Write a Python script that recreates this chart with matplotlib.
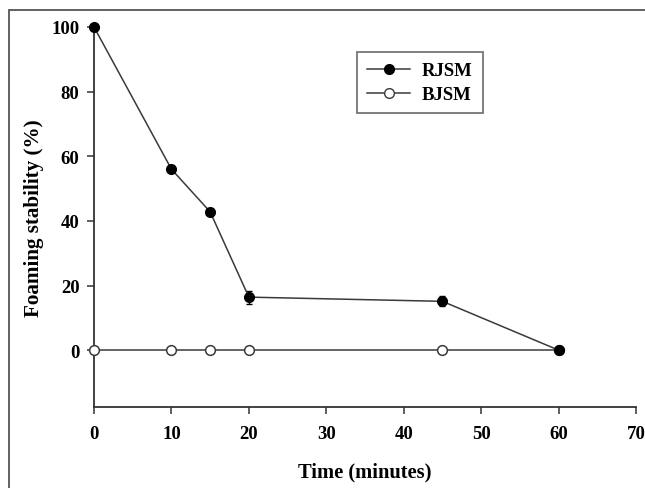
import numpy as np
import matplotlib.pyplot as plt
from matplotlib.patches import Rectangle
from matplotlib.lines import Line2D

# data
time_min = [0, 10, 15, 20, 45, 60]
rjsm = [100, 56, 42.8, 16.4, 15.1, 0]
rjsm_err = [0.8, 1.0, 1.0, 2.0, 1.5, 0]
bjsm = [0, 0, 0, 0, 0, 0]
series_names = ['RJSM', 'BJSM']

plt.rcParams['font.family'] = ['Liberation Serif', 'DejaVu Serif']
plt.rcParams['font.weight'] = 'bold'

fig = plt.figure(figsize=(6.45, 4.89), dpi=100)
ax = fig.add_axes([94/645, 1 - 408/489, (636 - 94)/645, (408 - 28)/489])

line_col = '#3a3a3a'
ms = 7
ax.errorbar(time_min, rjsm, yerr=rjsm_err, color=line_col, lw=1.1,
            marker='o', ms=ms, mfc='black', mec='black', ecolor='black',
            elinewidth=1, capsize=2.5, clip_on=False, zorder=3)
ax.plot(time_min, bjsm, color=line_col, lw=1.1, marker='o', ms=ms,
        mfc='white', mec=line_col, mew=1.1, clip_on=False, zorder=3)

ax.set_xlim(0, 70)
ax.set_ylim(-17.6, 100)
ax.set_xticks(np.arange(0, 71, 10))
ax.set_yticks(np.arange(0, 101, 20))
for s in ['top', 'right']:
    ax.spines[s].set_visible(False)
for s in ['left', 'bottom']:
    ax.spines[s].set_linewidth(1.3)
    ax.spines[s].set_color('#333333')
ax.tick_params(direction='out', length=5, width=1.1, labelsize=13.5, colors='#333333')
ax.tick_params(axis='x', pad=8)
ax.tick_params(axis='y', pad=5.5)
ax.tick_params(labelcolor='black')
for lab in ax.get_xticklabels() + ax.get_yticklabels():
    lab.set_fontweight('bold')

ax.set_xlabel('Time (minutes)', fontsize=14.8, fontweight='bold', labelpad=14)
ax.set_ylabel('Foaming stability (%)', fontsize=15.2, fontweight='bold', labelpad=5)

handles = [Line2D([], [], color=line_col, lw=1.1, marker='o', ms=ms, mfc='black', mec='black'),
           Line2D([], [], color=line_col, lw=1.1, marker='o', ms=ms, mfc='white', mec=line_col)]
leg = ax.legend(handles, series_names, loc='upper left',
                bbox_to_anchor=((357 - 94)/542, 1 - (53 - 28)/380),
                frameon=True, fancybox=False, edgecolor='#444444', fontsize=13.5,
                handlelength=2.3, handletextpad=0.6, borderpad=0.55, labelspacing=0.35,
                borderaxespad=0)
leg.get_frame().set_linewidth(1.2)
for t in leg.get_texts():
    t.set_fontweight('bold')

# outer frame of the original figure (cropped on right/bottom)
fig.patches.append(Rectangle((9/645, -0.1), 1.2, 1.1 - 11/489, transform=fig.transFigure,
                             fill=False, edgecolor='#555555', lw=1.3))

fig.savefig('out.png', dpi=100)
